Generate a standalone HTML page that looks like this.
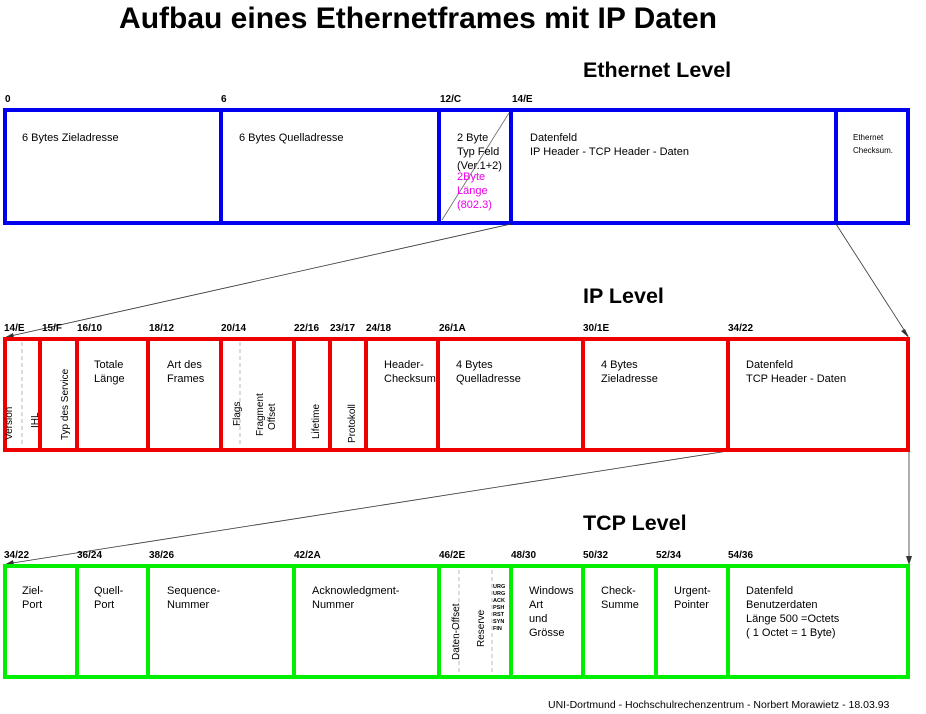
<!DOCTYPE html>
<html><head><meta charset="utf-8"><style>body{margin:0;background:#fff}svg{display:block}</style></head><body>
<svg width="926" height="714" xmlns="http://www.w3.org/2000/svg" font-family="Liberation Sans, Arial, sans-serif" font-size="11">
<text x="418" y="28" font-size="30" font-weight="bold" text-anchor="middle">Aufbau eines Ethernetframes mit IP Daten</text>
<text x="583" y="77" font-size="21.5" font-weight="bold">Ethernet Level</text>
<text x="583" y="303" font-size="21.5" font-weight="bold">IP Level</text>
<text x="583" y="530" font-size="21.5" font-weight="bold">TCP Level</text>

<!-- Ethernet -->
<g font-size="10" font-weight="bold"><text x="5" y="102">0</text><text x="221" y="102">6</text><text x="440" y="102">12/C</text><text x="512" y="102">14/E</text></g>
<rect x="5" y="110" width="903" height="113" fill="#fff" stroke="#0000ee" stroke-width="4"/>
<g stroke="#0000ee" stroke-width="4"><line x1="221" y1="110" x2="221" y2="223"/><line x1="439" y1="110" x2="439" y2="223"/><line x1="511" y1="110" x2="511" y2="223"/><line x1="836" y1="110" x2="836" y2="223"/></g>
<line x1="442" y1="220" x2="509" y2="113" stroke="#666" stroke-width="0.8"/>
<text x="22" y="141">6 Bytes Zieladresse</text>
<text x="239" y="141">6 Bytes Quelladresse</text>
<text x="457" y="141">2 Byte</text><text x="457" y="155">Typ Feld</text><text x="457" y="169">(Ver.1+2)</text>
<g fill="#ee00ee"><text x="457" y="180">2Byte</text><text x="457" y="194">Länge</text><text x="457" y="208">(802.3)</text></g>
<text x="530" y="141">Datenfeld</text><text x="530" y="155">IP Header - TCP Header - Daten</text>
<text x="853" y="140" font-size="8">Ethernet</text><text x="853" y="153" font-size="8">Checksum.</text>

<!-- arrows -->
<g stroke="#333" stroke-width="0.8" fill="none"><line x1="511" y1="224" x2="6" y2="337"/><line x1="836" y1="224" x2="908" y2="336"/><line x1="728" y1="451" x2="6" y2="564"/><line x1="909" y1="451" x2="909" y2="563"/></g>
<g fill="#333"><polygon points="4,338 13,333 14,338"/><polygon points="909,338 901,331 905,329"/><polygon points="4,565 13,560 14,565"/><polygon points="909,565 906,556 912,556"/></g>

<!-- IP -->
<g font-size="10" font-weight="bold"><text x="4" y="331">14/E</text><text x="42" y="331">15/F</text><text x="77" y="331">16/10</text><text x="149" y="331">18/12</text><text x="221" y="331">20/14</text><text x="294" y="331">22/16</text><text x="330" y="331">23/17</text><text x="366" y="331">24/18</text><text x="439" y="331">26/1A</text><text x="583" y="331">30/1E</text><text x="728" y="331">34/22</text></g>
<rect x="5" y="339" width="903" height="111" fill="#fff" stroke="#ee0000" stroke-width="4"/>
<g stroke="#ee0000" stroke-width="4"><line x1="40" y1="339" x2="40" y2="450"/><line x1="77" y1="339" x2="77" y2="450"/><line x1="148" y1="339" x2="148" y2="450"/><line x1="221" y1="339" x2="221" y2="450"/><line x1="294" y1="339" x2="294" y2="450"/><line x1="330" y1="339" x2="330" y2="450"/><line x1="366" y1="339" x2="366" y2="450"/><line x1="438" y1="339" x2="438" y2="450"/><line x1="583" y1="339" x2="583" y2="450"/><line x1="728" y1="339" x2="728" y2="450"/></g>
<g stroke="#aaa" stroke-width="0.8" stroke-dasharray="4,3"><line x1="22" y1="342" x2="22" y2="447"/><line x1="240" y1="342" x2="240" y2="447"/></g>
<g font-size="10"><text transform="translate(12,440) rotate(-90)">Version</text><text transform="translate(38,428) rotate(-90)">IHL</text><text transform="translate(68,440) rotate(-90)">Typ des Service</text><text transform="translate(240,426) rotate(-90)">Flags</text><text transform="translate(263,436) rotate(-90)">Fragment</text><text transform="translate(275,430) rotate(-90)">Offset</text><text transform="translate(319,439) rotate(-90)">Lifetime</text><text transform="translate(355,443) rotate(-90)">Protokoll</text></g>
<text x="94" y="368">Totale</text><text x="94" y="382">Länge</text>
<text x="167" y="368">Art des</text><text x="167" y="382">Frames</text>
<text x="384" y="368">Header-</text><text x="384" y="382">Checksum</text>
<text x="456" y="368">4 Bytes</text><text x="456" y="382">Quelladresse</text>
<text x="601" y="368">4 Bytes</text><text x="601" y="382">Zieladresse</text>
<text x="746" y="368">Datenfeld</text><text x="746" y="382">TCP Header - Daten</text>

<!-- TCP -->
<g font-size="10" font-weight="bold"><text x="4" y="558">34/22</text><text x="77" y="558">36/24</text><text x="149" y="558">38/26</text><text x="294" y="558">42/2A</text><text x="439" y="558">46/2E</text><text x="511" y="558">48/30</text><text x="583" y="558">50/32</text><text x="656" y="558">52/34</text><text x="728" y="558">54/36</text></g>
<rect x="5" y="566" width="903" height="111" fill="#fff" stroke="#00ee00" stroke-width="4"/>
<g stroke="#00ee00" stroke-width="4"><line x1="77" y1="566" x2="77" y2="677"/><line x1="148" y1="566" x2="148" y2="677"/><line x1="294" y1="566" x2="294" y2="677"/><line x1="439" y1="566" x2="439" y2="677"/><line x1="511" y1="566" x2="511" y2="677"/><line x1="583" y1="566" x2="583" y2="677"/><line x1="656" y1="566" x2="656" y2="677"/><line x1="728" y1="566" x2="728" y2="677"/></g>
<g stroke="#aaa" stroke-width="0.8" stroke-dasharray="4,3"><line x1="459" y1="570" x2="459" y2="674"/><line x1="492" y1="570" x2="492" y2="674"/></g>
<g font-size="10"><text transform="translate(459,660) rotate(-90)">Daten-Offset</text><text transform="translate(484,647) rotate(-90)">Reserve</text></g>
<g font-size="5.5" font-weight="bold"><text x="493" y="588">URG</text><text x="493" y="595">URG</text><text x="493" y="602">ACK</text><text x="493" y="609">PSH</text><text x="493" y="616">RST</text><text x="493" y="623">SYN</text><text x="493" y="630">FIN</text></g>
<text x="22" y="594">Ziel-</text><text x="22" y="608">Port</text>
<text x="94" y="594">Quell-</text><text x="94" y="608">Port</text>
<text x="167" y="594">Sequence-</text><text x="167" y="608">Nummer</text>
<text x="312" y="594">Acknowledgment-</text><text x="312" y="608">Nummer</text>
<text x="529" y="594">Windows</text><text x="529" y="608">Art</text><text x="529" y="622">und</text><text x="529" y="636">Grösse</text>
<text x="601" y="594">Check-</text><text x="601" y="608">Summe</text>
<text x="674" y="594">Urgent-</text><text x="674" y="608">Pointer</text>
<text x="746" y="594">Datenfeld</text><text x="746" y="608">Benutzerdaten</text><text x="746" y="622">Länge 500 =Octets</text><text x="746" y="636">( 1 Octet = 1 Byte)</text>

<text x="548" y="708" font-size="10.5">UNI-Dortmund - Hochschulrechenzentrum - Norbert Morawietz  - 18.03.93</text>
</svg>
</body></html>
